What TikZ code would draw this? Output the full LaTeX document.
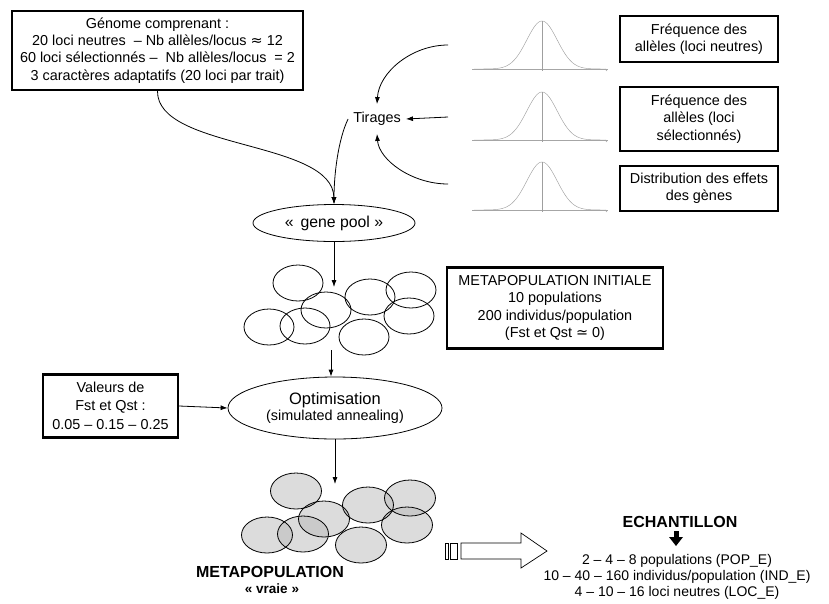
\documentclass[tikz,border=0pt]{standalone}
\usepackage{fontspec}
\setmainfont{Liberation Sans}
\newfontfamily\dejavu{DejaVu Sans}
\usetikzlibrary{shapes.geometric,arrows.meta}
\begin{document}
\begin{tikzpicture}[x=1pt,y=-1pt,
  txt/.style={font=\fontsize{14.4}{17.3}\selectfont, align=center},
  thickbox/.style={draw, line width=2.4pt, inner sep=0pt, txt},
  arr/.style={-{Latex[length=7pt,width=5pt]}, line width=0.8pt},
  popopen/.style={line width=0.8pt},
  popfill/.style={fill={rgb,255:red,185;green,185;blue,185}, fill opacity=0.5},
  bell/.style={gray!75, line width=0.45pt}
]
\useasboundingbox (0,0) rectangle (829,603);

% ---- genome box
\node[thickbox, minimum width=291pt, minimum height=79pt] (genome) at (157.5,50.5) {Génome comprenant :\\20 loci neutres \ – Nb allèles/locus {\dejavu ≈} 12\\60 loci sélectionnés – \ Nb allèles/locus \ = 2\\3 caractères adaptatifs (20 loci par trait)};

% ---- distributions
\foreach \by in {69,140,210} {
  \draw[gray!70, line width=0.8pt] (472,\by) -- (608,\by);
  \draw[bell] plot[domain=-68:64, samples=100, smooth] ({542+\x},{\by-48*exp(-(\x*\x)/460)});
  \draw[bell] (542,\by-48) -- (542,\by+2);
  \draw[gray!70, line width=0.4pt] (605,\by) -- (607,\by+2);
}
\coordinate (b1) at (448,45);
\coordinate (b2) at (448,117);
\coordinate (b3) at (448,184);

\node[thickbox, minimum width=158pt, minimum height=46pt] (fr1) at (699,39) {Fréquence des\\allèles (loci neutres)};
\node[thickbox, minimum width=158pt, minimum height=64pt] (fr2) at (699,119) {Fréquence des\\allèles (loci\\sélectionnés)};
\node[thickbox, minimum width=158pt, minimum height=45pt] (fr3) at (699,188.5) {Distribution des effets\\des gènes};

% ---- tirages
\node[txt, inner xsep=5pt, inner ysep=8pt] (tirages) at (377,119) {Tirages};
\draw[arr] (b1) .. controls (412,45) and (379,72) .. (tirages.north);
\draw[arr] (b2) -- (tirages.east);
\draw[arr] (b3) .. controls (412,184) and (379,160) .. (tirages.south);

% ---- gene pool
\node[draw, ellipse, line width=0.8pt, minimum width=162pt, minimum height=37pt, inner sep=0pt, font=\fontsize{15.8}{18}\selectfont] (genepool) at (334,223) {« \,gene pool »};
\draw[arr] (genome.south) .. controls (157,150) and (333,140) .. (genepool.north);
\draw[arr] (tirages.west) .. controls (338,140) and (334,175) .. (genepool.north);

% ---- initial metapopulation
\coordinate (c1top) at (334,287);
\coordinate (c1bot) at (331,350);
\draw[arr] (genepool.south) -- (c1top);
\foreach \cx/\cy in {298/283, 326/310, 370/297, 411/290, 409/316, 269/327, 305/326, 364/337}
  \draw[popopen] (\cx,\cy) ellipse [x radius=25, y radius=18];

\node[thickbox, minimum width=216pt, minimum height=81pt] (init) at (555,308) {METAPOPULATION INITIALE\\10 populations\\200 individus/population\\(Fst et Qst {\dejavu ≃} 0)};

% ---- optimisation
\node[draw, ellipse, line width=0.8pt, minimum width=214pt, minimum height=62pt, inner sep=0pt, align=center] (optim) at (335,408) {{\fontsize{16.5}{18}\selectfont Optimisation}\\[1pt]{\fontsize{14.4}{17}\selectfont (simulated annealing)}};
\draw[arr] (c1bot) -- (optim.north -| c1bot);

\node[thickbox, minimum width=135pt, minimum height=63pt] (val) at (110.5,406) {Valeurs de\\Fst et Qst :\\[2pt]0.05 – 0.15 – 0.25};
\draw[arr] (val.east) -- (optim.west);

% ---- true metapopulation
\coordinate (c2top) at (335,484);
\draw[arr] (optim.south) -- (c2top);
\foreach \cx/\cy in {296/491, 324/519, 368/505, 410/498, 407/525, 267/535, 303/534, 361/545}
  \fill[popfill] (\cx,\cy) ellipse [x radius=25.5, y radius=18];
\foreach \cx/\cy in {296/491, 324/519, 368/505, 410/498, 407/525, 267/535, 303/534, 361/545}
  \draw[popopen] (\cx,\cy) ellipse [x radius=25.5, y radius=18];

\node[font=\bfseries\fontsize{16}{18}\selectfont] (metatxt) at (270,572) {METAPOPULATION};
\node[font=\bfseries\fontsize{13.5}{15}\selectfont] (vraie) at (272,589) {« vraie »};

% ---- sampling arrow
\draw[line width=0.7pt] (445,543) rectangle (448,559);
\draw[line width=0.7pt] (450,543) rectangle (457,559);
\draw[line width=0.7pt, fill=white] (461,543) -- (521,543) -- (521,533) -- (547,551) -- (521,568) -- (521,559) -- (461,559) -- cycle;

% ---- sample
\node[font=\bfseries\fontsize{16}{18}\selectfont] (ech) at (680,522) {ECHANTILLON};
\fill (673.5,531) rectangle (678.5,538);
\fill (669,537) -- (683,537) -- (676,546) -- cycle;
\node[txt, font=\fontsize{14}{16.2}\selectfont] (samp) at (677,577) {2 – 4 – 8 populations (POP\_E)\\10 – 40 – 160 individus/population (IND\_E)\\4 – 10 – 16 loci neutres (LOC\_E)};
\end{tikzpicture}
\end{document}
